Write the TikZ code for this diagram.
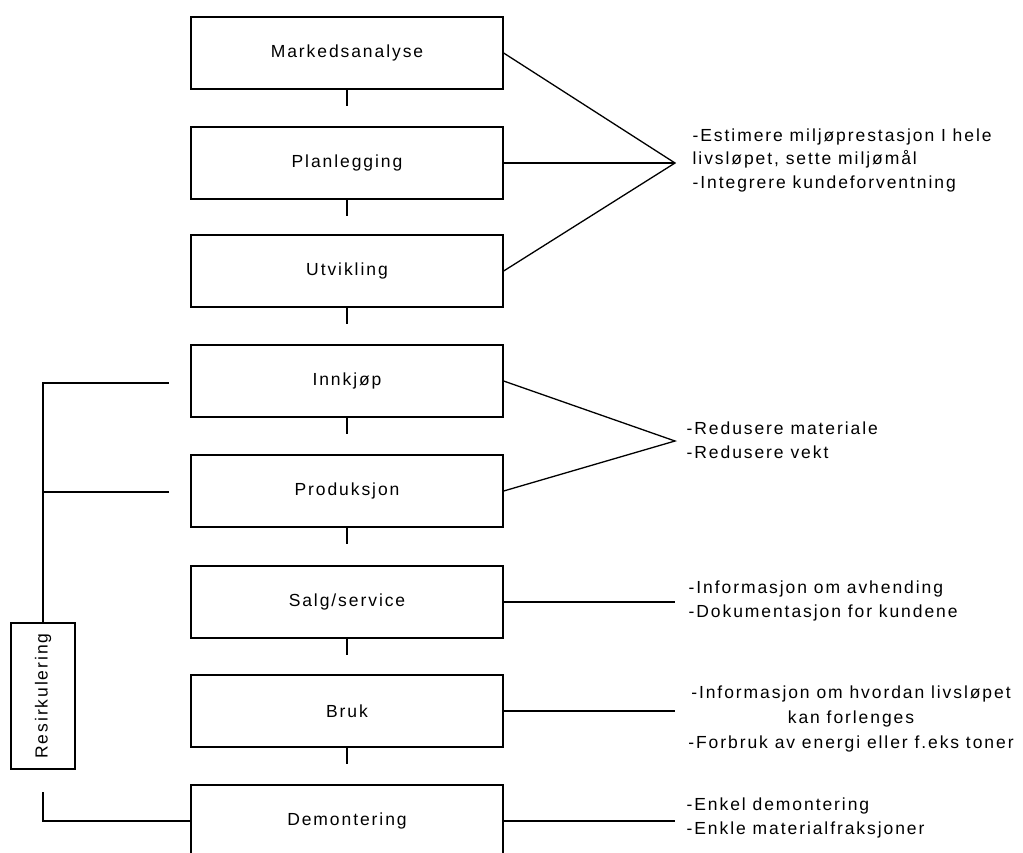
\documentclass[tikz,border=0pt]{standalone}
\usepackage{fontspec}
\setmainfont{Liberation Sans}[LetterSpace=11]
\begin{document}
\begin{tikzpicture}[x=1pt,y=-1pt, line width=1.3pt,
  stage/.style={draw, minimum width=312pt, minimum height=72pt, inner sep=0pt,
    font=\fontsize{17.5}{23.5}\selectfont},
  note/.style={font=\fontsize{17.5}{23.5}\selectfont, inner sep=0pt, align=left, anchor=west},
  notec/.style={font=\fontsize{17.5}{25}\selectfont, inner sep=0pt, align=center},
  stub/.style={line width=1.3pt}]
\clip (0,0) rectangle (1023,852);
% stages
\node[stage] (b1) at (347,53)  {Markedsanalyse};
\node[stage] (b2) at (347,163) {Planlegging};
\node[stage] (b3) at (347,271) {Utvikling};
\node[stage] (b4) at (347,381) {Innkjøp};
\node[stage] (b5) at (347,491) {Produksjon};
\node[stage] (b6) at (347,602) {Salg/service};
\node[stage] (b7) at (347,711) {Bruk};
\node[stage] (b8) at (347,821) {Demontering};
% stubs below boxes
\foreach \b in {b1,b2,b3,b4,b5,b6,b7}{
  \draw[stub] (\b.south) -- ++(0,16);
}
% recycling box
\node[draw, minimum width=64pt, minimum height=146pt, inner sep=0pt,
  font=\fontsize{17.5}{20}\selectfont] (res) at (43,696) {\rotatebox{90}{Resirkulering}};
\coordinate (tap1) at (169,383);
\coordinate (tap2) at (169,492);
\coordinate (rs) at (43,792);
\draw (res.north) |- (tap1);
\draw (tap2) -- (tap2 -| res.north);
\draw (rs) |- (b8.west);
% right connectors
\coordinate (ap1) at (675,163);
\coordinate (ap2) at (675,441);
\coordinate (e6) at (675,602);
\coordinate (e7) at (675,711);
\coordinate (e8) at (675,821);
\draw (b1.east) -- (ap1) -- (b3.east);
\draw (b2.east) -- (ap1);
\draw (b4.east) -- (ap2) -- (b5.east);
\draw (b6.east) -- (e6);
\draw (b7.east) -- (e7);
\draw (b8.east) -- (e8);
% notes
\node[note] (n1) at (692,160) {-Estimere miljøprestasjon I hele\\livsløpet, sette miljømål\\-Integrere kundeforventning};
\node[note] (n2) at (686,440) {-Redusere materiale\\-Redusere vekt};
\node[note] (n3) at (688,601) {-Informasjon om avhending\\-Dokumentasjon for kundene};
\node[notec] (n4) at (851,719) {-Informasjon om hvordan livsløpet\\kan forlenges\\-Forbruk av energi eller f.eks toner};
\node[note] (n5) at (686,818) {-Enkel demontering\\-Enkle materialfraksjoner};
\end{tikzpicture}
\end{document}
